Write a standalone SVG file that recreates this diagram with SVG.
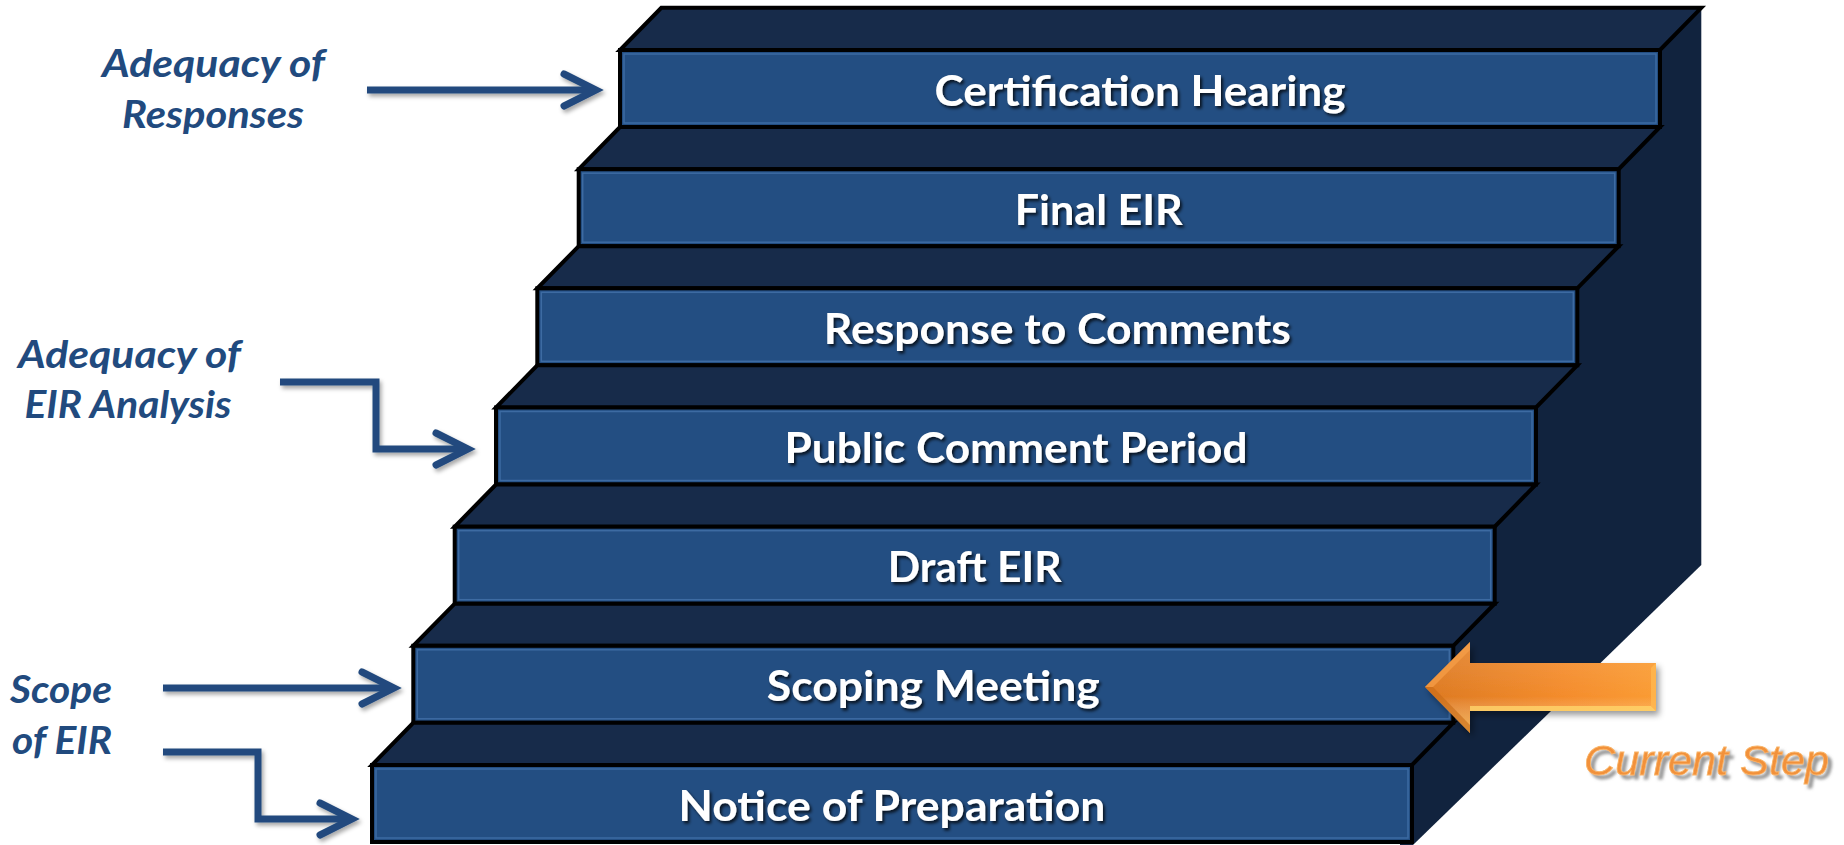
<svg xmlns="http://www.w3.org/2000/svg" width="1844" height="845" viewBox="0 0 1844 845">
<style>
.side{fill:#11233E}
.top{fill:#172B4A;stroke:#000;stroke-width:4;stroke-linejoin:miter}
.front{fill:#234E82;stroke:#000;stroke-width:4}
.inner{fill:none;stroke:#3D6BA2;stroke-width:1.5}
.lbl{font-family:Lato,"Liberation Sans",sans-serif;font-weight:700;font-size:42px;fill:#fff;text-anchor:middle;filter:url(#tsh)}
.side-lbl{font-family:Lato,"Liberation Sans",sans-serif;font-weight:700;font-style:italic;font-size:38px;fill:#214A7E;text-anchor:middle}
.conn{fill:none;stroke:#214A7E;stroke-width:7;marker-end:url(#chev);filter:url(#ash)}
.cur{font-family:"Liberation Sans",Arial,sans-serif;font-style:italic;font-size:42px}
</style>
<defs>
<filter id="tsh" x="-10%" y="-30%" width="120%" height="160%">
<feDropShadow dx="2" dy="2.5" stdDeviation="1.5" flood-color="#000" flood-opacity="0.75"/>
</filter>
<filter id="ash" filterUnits="userSpaceOnUse" x="0" y="0" width="1844" height="845">
<feDropShadow dx="2" dy="3" stdDeviation="2" flood-color="#000" flood-opacity="0.35"/>
</filter>
<filter id="osh" x="-10%" y="-30%" width="130%" height="160%">
<feDropShadow dx="3" dy="4" stdDeviation="3" flood-color="#000" flood-opacity="0.4"/>
</filter>
<filter id="gsh" x="-10%" y="-30%" width="130%" height="170%">
<feGaussianBlur in="SourceAlpha" stdDeviation="1.5"/>
<feOffset dx="4" dy="4" result="b"/>
<feFlood flood-color="#8C8C8C" flood-opacity="0.9"/>
<feComposite in2="b" operator="in" result="s"/>
<feMerge><feMergeNode in="s"/><feMergeNode in="SourceGraphic"/></feMerge>
</filter>
<marker id="chev" markerUnits="userSpaceOnUse" markerWidth="60" markerHeight="60" refX="40" refY="30" orient="auto" overflow="visible">
<path d="M9,14 L41,30 L9,46" fill="none" stroke="#214A7E" stroke-width="7" stroke-linecap="round" stroke-linejoin="miter"/>
</marker>
<linearGradient id="og" x1="0" y1="0" x2="1" y2="0">
<stop offset="0" stop-color="#DD7A22"/>
<stop offset="0.6" stop-color="#F48C2C"/>
<stop offset="1" stop-color="#FA9C34"/>
</linearGradient>
<linearGradient id="ogv" x1="0" y1="0" x2="0" y2="1">
<stop offset="0" stop-color="#fff" stop-opacity="0.12"/>
<stop offset="0.6" stop-color="#fff" stop-opacity="0"/>
<stop offset="1" stop-color="#FFE070" stop-opacity="0.55"/>
</linearGradient>
</defs>
<rect width="1844" height="845" fill="#fff"/>

<polygon class="side" points="1400,7.8 1701.3,7.8 1701.3,565 1413,845 1400,845"/>

<g id="step-certification-hearing">
<polygon class="top" points="661.3,7.8 1701.3,7.8 1660,50 620,50"/>
<rect class="front" x="620" y="50" width="1040" height="77"/>
<rect class="inner" x="624" y="54" width="1032" height="69"/>
<text class="lbl" x="1140" y="105.5" textLength="411" lengthAdjust="spacingAndGlyphs">Certification Hearing</text>
</g>
<g id="step-final-eir">
<polygon class="top" points="620,127 1660,127 1618.7,169.2 578.7,169.2"/>
<rect class="front" x="578.7" y="169.2" width="1040" height="77"/>
<rect class="inner" x="582.7" y="173.2" width="1032" height="69"/>
<text class="lbl" x="1098.7" y="224.7" textLength="168" lengthAdjust="spacingAndGlyphs">Final EIR</text>
</g>
<g id="step-response-to-comments">
<polygon class="top" points="578.7,246.2 1618.7,246.2 1577.3,288.3 537.3,288.3"/>
<rect class="front" x="537.3" y="288.3" width="1040" height="77"/>
<rect class="inner" x="541.3" y="292.3" width="1032" height="69"/>
<text class="lbl" x="1057.3" y="343.8" textLength="467" lengthAdjust="spacingAndGlyphs">Response to Comments</text>
</g>
<g id="step-public-comment-period">
<polygon class="top" points="537.3,365.3 1577.3,365.3 1536,407.5 496,407.5"/>
<rect class="front" x="496" y="407.5" width="1040" height="77"/>
<rect class="inner" x="500" y="411.5" width="1032" height="69"/>
<text class="lbl" x="1016" y="463" textLength="463" lengthAdjust="spacingAndGlyphs">Public Comment Period</text>
</g>
<g id="step-draft-eir">
<polygon class="top" points="496,484.5 1536,484.5 1494.7,526.7 454.7,526.7"/>
<rect class="front" x="454.7" y="526.7" width="1040" height="77"/>
<rect class="inner" x="458.7" y="530.7" width="1032" height="69"/>
<text class="lbl" x="974.7" y="582.2" textLength="174" lengthAdjust="spacingAndGlyphs">Draft EIR</text>
</g>
<g id="step-scoping-meeting">
<polygon class="top" points="454.7,603.7 1494.7,603.7 1453.3,645.8 413.3,645.8"/>
<rect class="front" x="413.3" y="645.8" width="1040" height="77"/>
<rect class="inner" x="417.3" y="649.8" width="1032" height="69"/>
<text class="lbl" x="933.3" y="701.3" textLength="333" lengthAdjust="spacingAndGlyphs">Scoping Meeting</text>
</g>
<g id="step-notice-of-preparation">
<polygon class="top" points="413.3,722.8 1453.3,722.8 1412,765 372,765"/>
<rect class="front" x="372" y="765" width="1040" height="77"/>
<rect class="inner" x="376" y="769" width="1032" height="69"/>
<text class="lbl" x="892" y="820.5" textLength="427" lengthAdjust="spacingAndGlyphs">Notice of Preparation</text>
</g>

<g id="label-adequacy-responses">
<text class="side-lbl" x="213.5" y="77" textLength="223" lengthAdjust="spacingAndGlyphs">Adequacy of</text>
<text class="side-lbl" x="213" y="128" textLength="182" lengthAdjust="spacingAndGlyphs">Responses</text>
</g>
<g id="label-adequacy-analysis">
<text class="side-lbl" x="129.5" y="368" textLength="223" lengthAdjust="spacingAndGlyphs">Adequacy of</text>
<text class="side-lbl" x="128" y="418" textLength="207" lengthAdjust="spacingAndGlyphs">EIR Analysis</text>
</g>
<g id="label-scope">
<text class="side-lbl" x="61" y="702.5" textLength="102" lengthAdjust="spacingAndGlyphs">Scope</text>
<text class="side-lbl" x="62" y="753.5" textLength="100" lengthAdjust="spacingAndGlyphs">of EIR</text>
</g>

<g id="connectors">
<path class="conn" d="M367,90 H595"/>
<path class="conn" d="M280,382 H376 V449 H467"/>
<path class="conn" d="M163,688 H393"/>
<path class="conn" d="M163,752 H258 V819 H351"/>
</g>

<g id="current-step">
<g filter="url(#osh)">
<polygon points="1425,687 1470,642 1470,663 1656,663 1656,711 1470,711 1470,733" fill="url(#og)"/>
<polygon points="1425,687 1470,642 1470,663 1656,663 1656,711 1470,711 1470,733" fill="url(#ogv)"/>
<polygon points="1470,706 1651,706 1656,711 1470,711" fill="#FFD46A" opacity="0.8"/>
<polygon points="1651,668 1656,663 1656,711 1651,706" fill="#FFB850" opacity="0.8"/>
<polygon points="1425,687 1470,642 1470,650 1433,687" fill="#F6A048" opacity="0.7"/>
<polygon points="1425,687 1433,687 1470,725 1470,733" fill="#C86A18" opacity="0.6"/>
</g>
<text class="cur" x="1584" y="775" textLength="245" lengthAdjust="spacingAndGlyphs" fill="#F2913A" stroke="#F9B569" stroke-width="0.8" filter="url(#gsh)">Current Step</text>
</g>
</svg>
